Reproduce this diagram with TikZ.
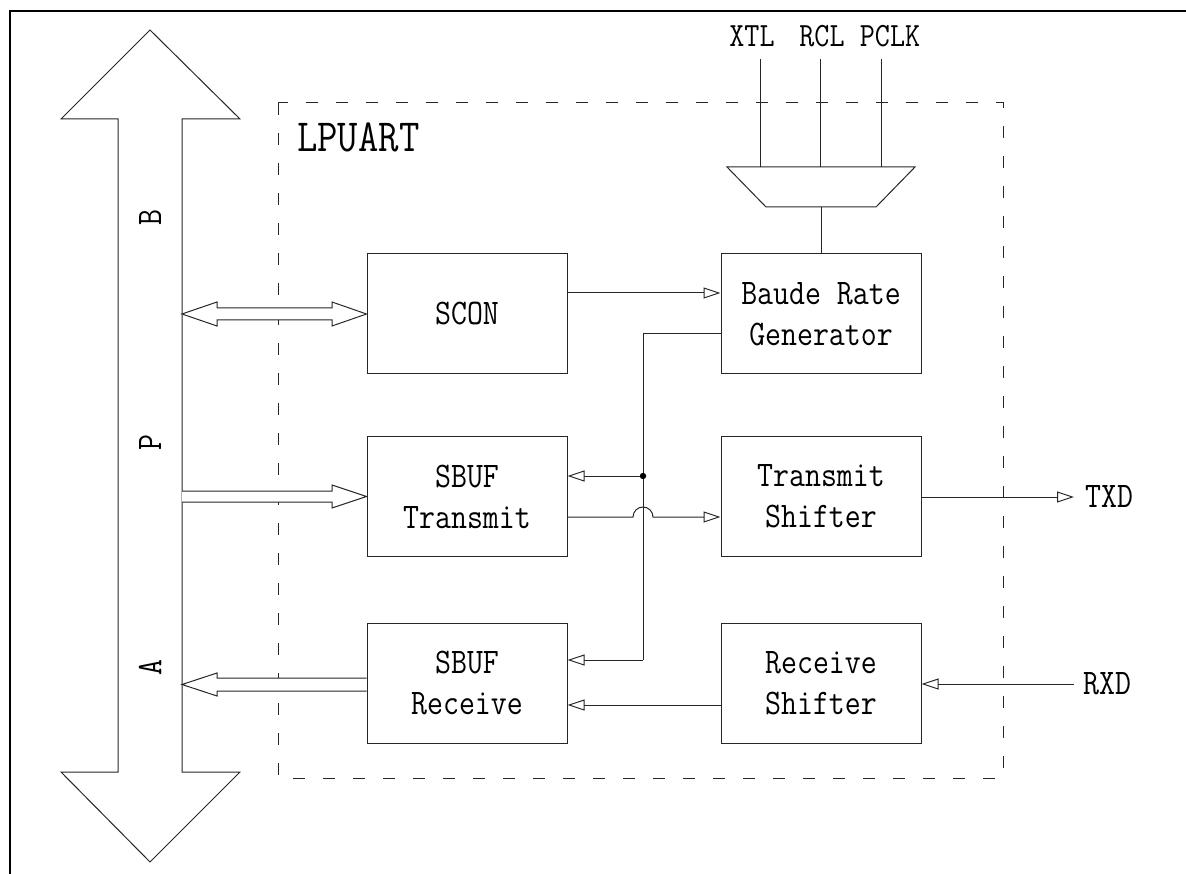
\documentclass[tikz,border=0pt]{standalone}
\usepackage{fontspec}
\setmonofont[FakeStretch=0.86]{Latin Modern Mono}
\usetikzlibrary{arrows.meta}
\begin{document}
\begin{tikzpicture}[x=1pt,y=-1pt,
  ln/.style={line width=1pt,draw=black!85},
  blk/.style={ln,draw,minimum width=200pt,minimum height=120pt,inner sep=0pt,
    align=center,font=\ttfamily\fontsize{36}{41}\selectfont},
  lbl/.style={inner sep=0pt,font=\ttfamily\fontsize{36}{41}\selectfont},
  tri/.style={ln,-{Triangle[open,length=17pt,width=11pt]}},
  wide/.style={ln,fill=white,line join=miter}]
\useasboundingbox (0,0) rectangle (1186,874);
% page frame
\draw[line width=2pt] (10,874) -- (10,11) -- (1186,11);
% dashed block
\draw[ln,dash pattern=on 12pt off 18pt] (278,103) rectangle (1003,778);
\node[inner sep=0pt,anchor=west,font=\ttfamily\fontsize{46}{50}\selectfont] (lp) at (297,137) {LPUART};
% bus arrow
\draw[wide] (118,119) -- (61,119) -- (150,30) -- (240,119) -- (182,119) -- (182,772)
  -- (240,772) -- (150,862) -- (61,772) -- (118,772) -- cycle;
\node[lbl,rotate=90] (bB) at (150,218) {B};
\node[lbl,rotate=90] (bP) at (150,443) {P};
\node[lbl,rotate=90] (bA) at (150,668) {A};
% blocks
\node[blk] (scon) at (467,314) {SCON};
\node[blk] (brg) at (821,314) {Baude Rate\\Generator};
\node[blk] (stx) at (467,496.5) {SBUF\\Transmit};
\node[blk] (tsh) at (821,496.5) {Transmit\\Shifter};
\node[blk] (srx) at (467,683) {SBUF\\Receive};
\node[blk] (rsh) at (821,683) {Receive\\Shifter};
% wide arrows
\draw[wide] (182,314) -- (217,302) -- (217,308) -- (332,308) -- (332,302) -- (scon.west)
  -- (332,326) -- (332,320) -- (217,320) -- (217,326) -- cycle;
\draw[wide] (182,491) -- (332,491) -- (332,485) -- (stx.west) -- (332,508) -- (332,502) -- (182,502);
\draw[wide] (srx.west |- 0,678) -- (217,678) -- (217,673) -- (182,684.5) -- (217,696) -- (217,691) -- (srx.west |- 0,691);
% mux and clocks
\draw[ln] (727,167) -- (915,167) -- (876,207) -- (766,207) -- cycle;
\coordinate (mo) at (821,207);
\node[lbl,font=\ttfamily\fontsize{34}{38}\selectfont] (xtl) at (752,36) {XTL};
\node[lbl,font=\ttfamily\fontsize{34}{38}\selectfont] (rcl) at (822,36) {RCL};
\node[lbl,font=\ttfamily\fontsize{34}{38}\selectfont] (pclk) at (890,36) {PCLK};
\draw[ln] (760,59) -- (760,167);
\draw[ln] (820,59) -- (820,167);
\draw[ln] (881,59) -- (881,167);
\draw[ln] (mo) -- (brg.north);
% connectors
\draw[tri] (scon.east |- 0,293) -- (brg.west |- 0,293);
\coordinate (j) at (643,476);
\draw[ln] (brg.west |- 0,334) -- (643,334) -- (643,660);
\draw[tri] (643,660) -- (srx.east |- 0,660);
\draw[tri] (j) -- (stx.east |- j);
\fill (j) circle[radius=3.2pt];
\draw[tri] (stx.east |- 0,517) -- (633,517) arc[start angle=180,end angle=0,radius=10pt] -- (tsh.west |- 0,517);
\draw[tri] (rsh.west |- 0,705) -- (srx.east |- 0,705);
\node[lbl,anchor=west] (txd) at (1085,497) {TXD};
\node[lbl,anchor=west] (rxd) at (1083,684) {RXD};
\draw[tri] (tsh.east |- txd) -- (1074,497);
\coordinate (rxs) at (1074,684);
\draw[tri] (rxs) -- (rsh.east |- rxs);
\end{tikzpicture}
\end{document}
